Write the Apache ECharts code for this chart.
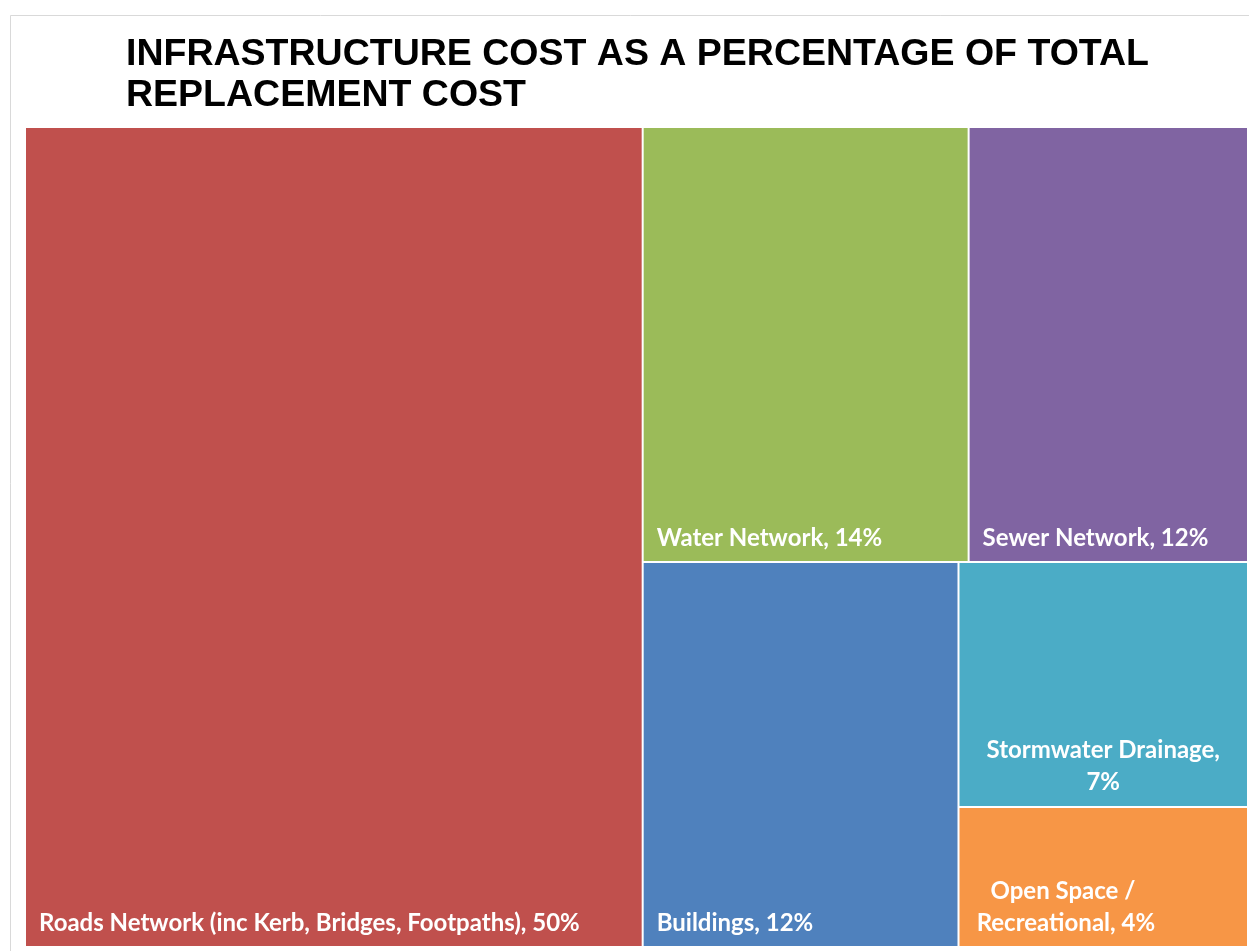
<!DOCTYPE html>
<html>
<head>
<meta charset="utf-8">
<script src="https://cdn.jsdelivr.net/npm/echarts@6/dist/echarts.min.js"></script>
<style>
  html, body { margin: 0; padding: 0; background: #ffffff; }
  #chart { width: 1249px; height: 951px; }
</style>
</head>
<body>
<div id="chart"></div>
<script>
// Asset classes and their share (%) of total replacement cost
const categories = [
  'Roads Network (inc Kerb, Bridges, Footpaths)',
  'Water Network',
  'Sewer Network',
  'Buildings',
  'Stormwater Drainage',
  'Open Space / Recreational'
];
const shares = [50, 14, 12, 12, 7, 4];
const colors = ['#C0504D', '#9BBB59', '#8064A2', '#4F81BD', '#4BACC6', '#F79646'];

const labelFont = {
  color: '#ffffff',
  fontFamily: 'Lato, "Open Sans", sans-serif',
  fontWeight: 'bold',
  fontSize: 24,
  lineHeight: 32
};

// Per-cell label placement (two-line labels sit centred near the bottom)
const labelOverrides = {
  'Stormwater Drainage': {
    position: ['50%', '99%'], align: 'center', verticalAlign: 'bottom',
    padding: 5,
    formatter: 'Stormwater Drainage,\n7%'
  },
  'Open Space / Recreational': {
    position: ['37%', '99%'], align: 'center', verticalAlign: 'bottom',
    padding: 5,
    formatter: 'Open Space / \nRecreational, 4%'
  }
};

const data = categories.map((name, i) => {
  const item = {
    name: name,
    value: shares[i],
    itemStyle: { color: colors[i] }
  };
  if (labelOverrides[name]) {
    item.label = Object.assign({}, labelFont, labelOverrides[name]);
  }
  return item;
});

const chart = echarts.init(document.getElementById('chart'), null, { renderer: 'canvas' });

chart.setOption({
  backgroundColor: '#ffffff',
  animation: false,
  title: {
    text: 'INFRASTRUCTURE COST AS A PERCENTAGE OF TOTAL\nREPLACEMENT COST',
    left: 121,
    top: 29,
    textStyle: {
      fontFamily: '"Liberation Sans", Arial, sans-serif',
      fontWeight: 'bold',
      fontSize: 37.5,
      lineHeight: 41,
      color: '#000000'
    }
  },
  graphic: [{
    type: 'rect',
    silent: true,
    z: -1,
    shape: { x: 10.5, y: 15.5, width: 1300, height: 1000 },
    style: { fill: 'none', stroke: '#d9d9d9', lineWidth: 1 }
  }],
  series: [{
    type: 'treemap',
    left: 26,
    top: 128,
    right: 2,
    bottom: 5,
    sort: false,
    squareRatio: 1,
    roam: false,
    nodeClick: false,
    breadcrumb: { show: false },
    itemStyle: { borderColor: '#ffffff', borderWidth: 0, gapWidth: 2 },
    levels: [{
      itemStyle: { borderColor: '#ffffff', borderWidth: 0, gapWidth: 2 }
    }],
    label: Object.assign({
      show: true,
      position: 'insideBottomLeft',
      distance: 6,
      padding: [0, 0, 1, 7],
      overflow: 'none',
      formatter: p => p.name + ', ' + p.value + '%'
    }, labelFont),
    data: data
  }]
});
</script>
</body>
</html>
